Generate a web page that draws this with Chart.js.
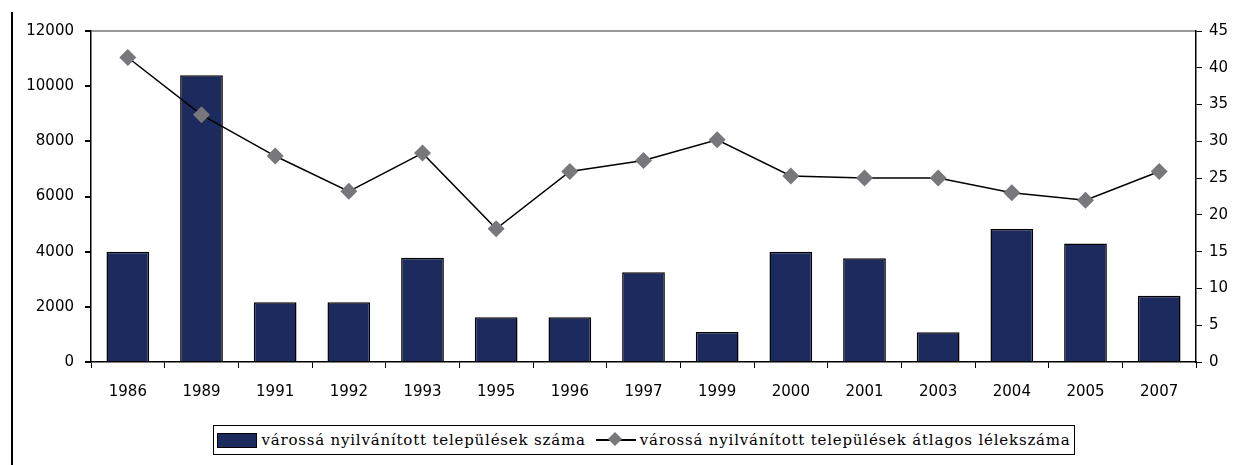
<!DOCTYPE html>
<html>
<head>
<meta charset="utf-8">
<script src="https://cdn.jsdelivr.net/npm/chart.js@4"></script>
<style>
  body { margin: 0; background: #fff; }
  #wrap { position: relative; width: 1244px; height: 465px; }
  #side { position: absolute; left: 11px; top: 12px; width: 2px; height: 453px; background: #000; }
  #chart-box { position: absolute; left: 0; top: 0; width: 1244px; height: 410px; }
  #legend {
    position: absolute; left: 213px; top: 425px; width: 860px; height: 28px;
    border: 1.5px solid #000; box-sizing: content-box;
    display: flex; align-items: center; justify-content: center;
    font-family: "DejaVu Serif", serif; font-size: 15px; letter-spacing: 0.8px; color: #000; white-space: nowrap;
  }
  .lg-item { display: flex; align-items: center; }
  .lg-bar { width: 38px; height: 13px; background: #1c2a5e; border: 1.5px solid #000; margin-right: 4px; }
  .lg-line { position: relative; width: 40px; height: 16px; margin: 0 4px 0 10px; }
  .lg-line::before { content: ''; position: absolute; left: 0; right: 0; top: 7px; height: 1.5px; background: #000; }
  .lg-line::after { content: ''; position: absolute; left: 14px; top: 2px; width: 10px; height: 10px; background: #77777c; transform: rotate(45deg); }
</style>
</head>
<body>
<div id="wrap">
  <div id="side"></div>
  <div id="chart-box"><canvas id="chart"></canvas></div>
  <div id="legend">
    <span class="lg-item"><span class="lg-bar"></span>várossá nyilvánított települések száma</span>
    <span class="lg-item"><span class="lg-line"></span>várossá nyilvánított települések átlagos lélekszáma</span>
  </div>
</div>
<script>
// 年（カテゴリ）
const years = ['1986', '1989', '1991', '1992', '1993', '1995', '1996', '1997', '1999', '2000', '2001', '2003', '2004', '2005', '2007'];
// 棒グラフ（左軸）
const barValues = [4000, 10400, 2170, 2170, 3780, 1620, 1620, 3250, 1090, 4000, 3760, 1080, 4820, 4300, 2400];
// 折れ線（右軸）
const lineValues = [41.4, 33.6, 28.0, 23.2, 28.4, 18.1, 25.9, 27.4, 30.2, 25.3, 25.0, 25.0, 23.0, 22.0, 25.9];

const barLabel = 'várossá nyilvánított települések száma';
const lineLabel = 'várossá nyilvánított települések átlagos lélekszáma';

const tickFont = { family: 'DejaVu Sans', size: 15 };

new Chart(document.getElementById('chart'), {
  data: {
    labels: years,
    datasets: [
      {
        type: 'line',
        label: lineLabel,
        data: lineValues,
        yAxisID: 'y2',
        borderColor: '#000',
        borderWidth: 1.5,
        pointStyle: 'rectRot',
        pointRadius: 8.5,
        pointBackgroundColor: '#77777c',
        pointBorderColor: '#77777c',
        pointBorderWidth: 0,
        tension: 0,
        order: 0
      },
      {
        type: 'bar',
        label: barLabel,
        data: barValues,
        yAxisID: 'y',
        backgroundColor: '#1c2a5e',
        borderColor: '#000',
        borderWidth: 1.5,
        barPercentage: 0.58,
        categoryPercentage: 1,
        order: 1
      }
    ]
  },
  options: {
    responsive: true,
    maintainAspectRatio: false,
    animation: false,
    layout: { padding: { top: 31, left: 0, right: 0, bottom: 0 } },
    plugins: {
      legend: { display: false },
      tooltip: { enabled: false }
    },
    scales: {
      x: {
        offset: true,
        grid: { offset: true, color: 'transparent', tickColor: '#000', tickLength: 6, drawTicks: true },
        border: { color: '#000', width: 1.5 },
        ticks: { color: '#000', font: tickFont, padding: 15, maxRotation: 0, autoSkip: false },
        afterFit: s => { s.height = 48; }
      },
      y: {
        position: 'left',
        min: 0, max: 12000,
        ticks: { stepSize: 2000, color: '#000', font: tickFont, padding: 11, callback: v => String(v) },
        grid: {
          color: c => c.tick && c.tick.value === 12000 ? '#999' : 'transparent',
          lineWidth: 2,
          tickColor: '#000', tickLength: 6
        },
        border: { color: '#000', width: 1.5 },
        afterFit: s => { s.width = 91; }
      },
      y2: {
        position: 'right',
        min: 0, max: 45,
        ticks: { stepSize: 5, color: '#000', font: tickFont, padding: 7, callback: v => String(v) },
        grid: { drawOnChartArea: false, tickColor: '#000', tickLength: 6 },
        border: { color: '#000', width: 1.5 },
        afterFit: s => { s.width = 48; }
      }
    }
  }
});
</script>
</body>
</html>
